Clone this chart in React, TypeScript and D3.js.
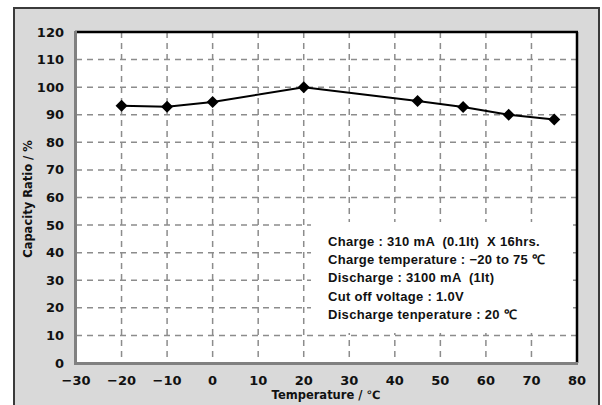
import React from "react";
import * as d3 from "d3";

const temps = [-20, -10, 0, 20, 45, 55, 65, 75];
const ratios = [93.3, 92.9, 94.6, 100, 95.0, 92.8, 90.0, 88.3];
const xTicks = [-30, -20, -10, 0, 10, 20, 30, 40, 50, 60, 70, 80];
const yTicks = [0, 10, 20, 30, 40, 50, 60, 70, 80, 90, 100, 110, 120];
const notes = [
  "Charge : 310 mA  (0.1It)  X 16hrs.",
  "Charge temperature : \u221220 to 75 \u2103",
  "Discharge : 3100 mA  (1It)",
  "Cut off voltage : 1.0V",
  "Discharge tenperature : 20 \u2103",
];
const xTitle = "Temperature / \u2103";
const yTitle = "Capacity Ratio / %";

const W = 602;
const H = 405;
const L = 76, R = 577, T = 32, B = 363;

export default function App() {
  const x = d3.scaleLinear().domain([-30, 80]).range([L, R]);
  const y = d3.scaleLinear().domain([0, 120]).range([B, T]);
  const line = d3
    .line<number>()
    .x((_, i) => x(temps[i]))
    .y((d) => y(d));
  const diamond = d3.symbol().type(d3.symbolSquare).size(72)();
  const font = "'Liberation Sans', Arial, sans-serif";
  const dv = "'DejaVu Sans', sans-serif";
  const fmt = (v: number) => (v < 0 ? "\u2212" + Math.abs(v) : String(v));
  return (
    <div style={{ position: "fixed", left: 0, top: 0 }}>
      <svg width={W} height={H} style={{ display: "block" }} fontFamily={font}>
        <rect x={0} y={0} width={W} height={H} fill="#ffffff" />
        <rect x={14} y={8} width={585} height={420} fill="#d9d9d9" stroke="#3a3a3a" strokeWidth={2} />
        <rect x={L} y={T} width={R - L} height={B - T} fill="#ffffff" />
        {/* grid */}
        {xTicks.slice(1, -1).map((t) => (
          <line key={"gx" + t} x1={x(t)} x2={x(t)} y1={T} y2={B} stroke="#8c8c8c" strokeWidth={1.5} strokeDasharray="6,5" />
        ))}
        {yTicks.slice(1, -1).map((t) => (
          <line key={"gy" + t} x1={L} x2={R} y1={y(t)} y2={y(t)} stroke="#8c8c8c" strokeWidth={1.5} strokeDasharray="6,5" />
        ))}
        {/* plot border */}
        <line x1={L - 1} x2={R + 1} y1={T} y2={T} stroke="#000" strokeWidth={2.5} />
        <line x1={R} x2={R} y1={T} y2={B} stroke="#000" strokeWidth={2.5} />
        <line x1={L - 0.5} x2={L - 0.5} y1={T - 1} y2={B + 2} stroke="#808080" strokeWidth={3} />
        <line x1={L - 2} x2={R + 1} y1={B + 0.5} y2={B + 0.5} stroke="#808080" strokeWidth={3} />
        {/* data */}
        <path d={line(ratios) || ""} fill="none" stroke="#000" strokeWidth={2} />
        {ratios.map((v, i) => (
          <path key={"m" + i} d={diamond || ""} transform={`translate(${x(temps[i])},${y(v)}) rotate(45)`} fill="#000" />
        ))}
        {/* y ticks */}
        {yTicks.map((t) => (
          <text key={"yt" + t} x={64} y={y(t) + 4.5} textAnchor="end" fontSize={13} fontFamily={dv} fontWeight="bold" fill="#111">
            {fmt(t)}
          </text>
        ))}
        {xTicks.map((t) => (
          <text key={"xt" + t} x={x(t)} y={385} textAnchor="middle" fontSize={13} fontFamily={dv} fontWeight="bold" fill="#111">
            {fmt(t)}
          </text>
        ))}
        <text x={326} y={399} textAnchor="middle" fontSize={11.5} fontFamily={dv} fontWeight="bold" fill="#111">
          {xTitle}
        </text>
        <text transform={`translate(32,199) rotate(-90)`} textAnchor="middle" fontSize={11.5} fontFamily={dv} fontWeight="bold" fill="#111">
          {yTitle}
        </text>
        {/* annotation box */}
        <rect x={311} y={222} width={262} height={111} fill="#ffffff" />
        {notes.map((n, i) => (
          <text key={"n" + i} x={328} y={246 + i * 18.2} fontSize={13} letterSpacing={0.3} fontWeight="bold" fill="#111" style={{ whiteSpace: "pre" }}>
            {n}
          </text>
        ))}
      </svg>
    </div>
  );
}
